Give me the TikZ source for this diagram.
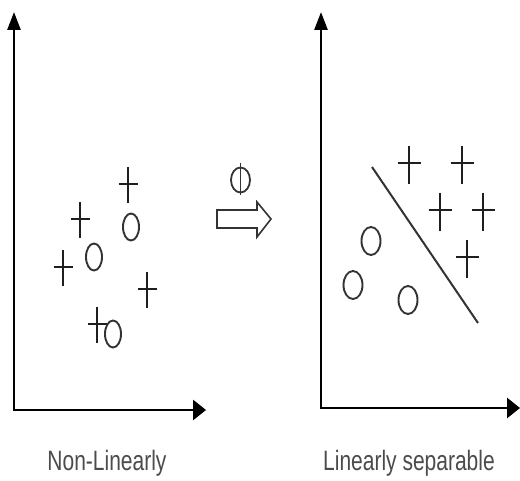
\documentclass[tikz,border=0pt]{standalone}
\usepackage{graphicx}
\usepackage{fontspec}
\setmainfont{Liberation Sans}
\usetikzlibrary{arrows.meta,shapes.geometric}
\begin{document}
\begin{tikzpicture}[x=1pt,y=-1pt,
  axis/.style={line width=2.7pt,
    {Triangle[length=18pt,width=13pt]}-{Triangle[length=13pt,width=20pt]}},
  sym/.style={line width=2.1pt,black!88},
  lcirc/.style={ellipse,draw,line width=1.9pt,black!80,inner sep=0pt,minimum width=16pt,minimum height=27pt},
  rcirc/.style={ellipse,draw,line width=1.9pt,black!80,inner sep=0pt,minimum width=19pt,minimum height=28pt},
  lplus/.pic={\draw[sym] (-9.5,-1) -- (9.5,-1); \draw[sym] (0,-18) -- (0,18);},
  rplus/.pic={\draw[sym] (-11.5,-2) -- (11.5,-2); \draw[sym] (0,-19) -- (0,19);},
  lab/.style={anchor=base,text=black!70,font=\fontsize{28}{32}\selectfont}]
\useasboundingbox (0,0) rectangle (520,481);
\fill[white] (0,0) rectangle (520,481);
% left axes
\coordinate (ly) at (14,12);
\coordinate (lo) at (14,410);
\coordinate (lx) at (206,410);
\draw[axis] (ly) -- (lo) -- (lx);
% right axes
\coordinate (ry) at (321,12);
\coordinate (ro) at (321,408);
\coordinate (rx) at (520,408);
\draw[axis] (ry) -- (ro) -- (rx);
% left points
\pic (lp1) at (128,185) {lplus};
\pic (lp2) at (80,220) {lplus};
\pic (lp3) at (63,268) {lplus};
\pic (lp4) at (147,290) {lplus};
\pic (lp5) at (97,325) {lplus};
\node[lcirc] (lc1) at (131,227) {};
\node[lcirc] (lc2) at (94,257) {};
\node[lcirc] (lc3) at (113,334) {};
% right points
\pic (rp1) at (409,165) {rplus};
\pic (rp2) at (462,165) {rplus};
\pic (rp3) at (440,212) {rplus};
\pic (rp4) at (483,212) {rplus};
\pic (rp5) at (467,259) {rplus};
\node[rcirc] (rc1) at (371,241) {};
\node[rcirc] (rc2) at (353,285) {};
\node[rcirc] (rc3) at (408,300) {};
% separating line
\coordinate (s1) at (372,167);
\coordinate (s2) at (478,323);
\draw[line width=2pt,black!80] (s1) -- (s2);
% phi
\node[ellipse,draw,line width=1.8pt,black!80,inner sep=0pt,minimum width=19pt,minimum height=25pt] (phi) at (240.5,180) {};
\coordinate (pt) at (240.5,163);
\coordinate (pb) at (240.5,195);
\draw[line width=1.8pt,black!80] (pt) -- (pb);
% hollow arrow
\draw[line width=1.6pt,black!80,line join=miter]
  (217,210) -- (257,210) -- (257,202) -- (271,219) -- (257,237) -- (257,228) -- (217,228) -- cycle;
% labels
\node[lab] (l1) at (107,470) {\scalebox{0.75}[1]{Non-Linearly}};
\node[lab] (l2) at (409,470) {\scalebox{0.75}[1]{Linearly separable}};
\end{tikzpicture}
\end{document}
